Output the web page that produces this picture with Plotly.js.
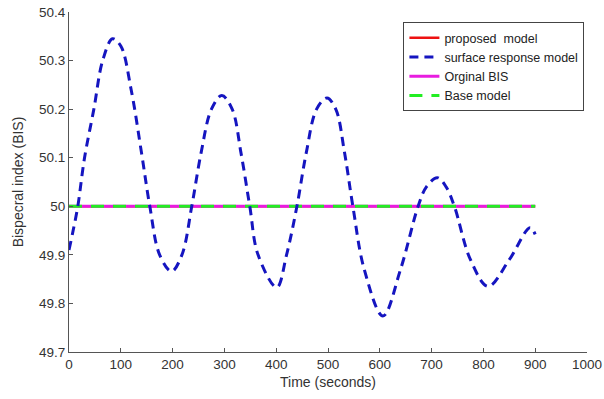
<!DOCTYPE html>
<html>
<head>
<meta charset="utf-8">
<script src="https://cdn.plot.ly/plotly-3.0.1.min.js"></script>
<style>html,body{margin:0;padding:0;background:#fff;}#chart{width:604px;height:399px;}</style>
</head>
<body>
<div id="chart"></div>
<script>
// Surface response model
const srTime = [0, 8, 17, 30, 48, 65, 84, 100, 120, 140, 156, 175, 198, 218, 237, 255, 275, 295, 315, 332, 349, 365, 401, 420, 440, 458, 478, 498, 515, 532, 548, 570, 606, 640, 674, 690, 711, 728, 744, 775, 809, 850, 890, 900];
const srBIS  = [49.91, 49.95, 50.0, 50.10, 50.20, 50.30, 50.345, 50.33, 50.24, 50.11, 50.0, 49.90, 49.866, 49.90, 50.0, 50.11, 50.20, 50.228, 50.20, 50.11, 50.0, 49.90, 49.833, 49.90, 50.0, 50.11, 50.20, 50.223, 50.20, 50.11, 50.0, 49.87, 49.774, 49.87, 50.0, 50.04, 50.059, 50.04, 50.0, 49.89, 49.835, 49.89, 49.956, 49.942];
// Constant models
const flatTime = [0, 900];
const proposedBIS = [50, 50];
const originalBIS = [50, 50];
const baseBIS = [50, 50];
// Axis ticks
const xTicks = [0, 100, 200, 300, 400, 500, 600, 700, 800, 900, 1000];
const yTicks = [49.7, 49.8, 49.9, 50, 50.1, 50.2, 50.3, 50.4];
const yTickText = ['49.7', '49.8', '49.9', '50', '50.1', '50.2', '50.3', '50.4'];

const traces = [
  {x: flatTime, y: proposedBIS, name: 'proposed\u00a0 model', mode: 'lines', line: {color: '#ee1111', width: 2.5}, legendrank: 1},
  {x: flatTime, y: originalBIS, name: 'Orginal BIS', mode: 'lines', line: {color: '#e81ce0', width: 3}, legendrank: 3},
  {x: flatTime, y: baseBIS, name: 'Base model', mode: 'lines', line: {color: '#22ee22', width: 3, dash: '13px,9px'}, legendrank: 4},
  {x: srTime, y: srBIS, name: 'surface response model', mode: 'lines', line: {color: '#1515c0', width: 3, dash: '9px,6px', shape: 'spline', smoothing: 1}, legendrank: 2}
];

const axisCommon = {
  showgrid: false, zeroline: false, showline: true, linecolor: '#555', linewidth: 1,
  ticks: 'inside', ticklen: 4, tickcolor: '#555',
  tickfont: {family: 'Liberation Sans, Arial, sans-serif', size: 13.5, color: '#333'},
  mirror: false
};

const layout = {
  width: 604, height: 399,
  margin: {l: 69, r: 17, t: 12, b: 47},
  paper_bgcolor: '#fff', plot_bgcolor: '#fff',
  showlegend: true,
  xaxis: Object.assign({}, axisCommon, {
    range: [0, 1000], tickvals: xTicks,
    title: {text: 'Time (seconds)', font: {family: 'Liberation Sans, Arial, sans-serif', size: 14, color: '#333'}, standoff: 5}
  }),
  yaxis: Object.assign({}, axisCommon, {
    range: [49.7, 50.4], tickvals: yTicks, ticktext: yTickText,
    title: {text: 'Bispecral index (BIS)', font: {family: 'Liberation Sans, Arial, sans-serif', size: 14, color: '#333'}, standoff: 12}
  }),
  legend: {
    x: 0.995, xanchor: 'right', y: 0.97, yanchor: 'top',
    bgcolor: '#fff', bordercolor: '#444', borderwidth: 1,
    font: {family: 'Liberation Sans, Arial, sans-serif', size: 12.5, color: '#222'},
    tracegroupgap: 0, itemwidth: 30
  }
};

Plotly.newPlot('chart', traces, layout, {displayModeBar: false, staticPlot: true});
</script>
</body>
</html>
